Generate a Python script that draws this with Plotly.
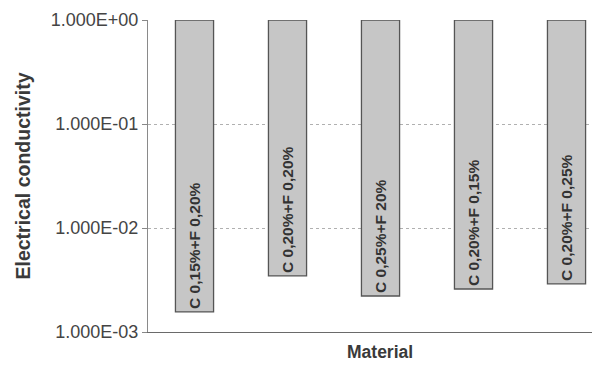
import plotly.graph_objects as go

materials = ["C 0,15%+F 0,20%", "C 0,20%+F 0,20%", "C 0,25%+F 20%", "C 0,20%+F 0,15%", "C 0,20%+F 0,25%"]
conductivity = [1.56e-3, 3.46e-3, 2.22e-3, 2.59e-3, 2.90e-3]
tick_vals = [1e-3, 1e-2, 1e-1, 1e0]
tick_text = ["1.000E-03", "1.000E-02", "1.000E-01", "1.000E+00"]
top_value = 1.0

xpos = list(range(len(materials)))

fig = go.Figure()
fig.add_trace(go.Bar(
    x=xpos,
    y=[v - top_value for v in conductivity],
    base=[top_value] * len(conductivity),
    width=0.41,
    marker=dict(color="#c6c6c6", line=dict(color="#555555", width=1.3)),
    text=materials,
    textposition="inside",
    insidetextanchor="end",
    textangle=-90,
    textfont=dict(family="Liberation Sans", size=15.5, color="#333333", weight="bold"),
    showlegend=False,
))

# page body has an 8px margin, so the figure is sized/margined to compensate
fig.update_layout(
    width=592, height=364,
    margin=dict(l=140, r=0, t=12, b=40, autoexpand=False),
    paper_bgcolor="white", plot_bgcolor="white",
    font=dict(family="Liberation Sans", color="#3a3a3a"),
    xaxis=dict(
        range=[-0.5, 4.36], showticklabels=False, ticks="",
        showgrid=False, zeroline=False,
        showline=True, linecolor="#6a6a6a", linewidth=1.2,
    ),
    yaxis=dict(
        type="log", range=[-3, 0],
        tickvals=tick_vals, ticktext=tick_text,
        tickfont=dict(family="Liberation Sans", size=18, color="#444"),
        ticks="outside", ticklen=5, tickcolor="#888",
        ticklabelstandoff=0,
        showgrid=True, gridcolor="#b0b0b0", gridwidth=1, griddash="dot",
        showline=True, linecolor="#8a8a8a", linewidth=1,
        zeroline=False,
        title=dict(text="<b>Electrical conductivity</b>", font=dict(family="Liberation Sans", size=19.5, color="#3a3a3a"), standoff=14),
    ),
    annotations=[dict(
        text="<b>Material</b>", xref="paper", yref="paper",
        x=(380 - 148) / 452, y=-20 / 312, xanchor="center", yanchor="middle",
        showarrow=False, font=dict(family="Liberation Sans", size=17.5, color="#3a3a3a"),
    )],
)

fig.write_html("out.html")
